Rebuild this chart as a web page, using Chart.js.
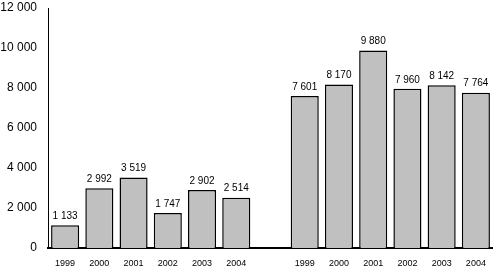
<!DOCTYPE html>
<html>
<head>
<meta charset="utf-8">
<script src="https://cdn.jsdelivr.net/npm/chart.js@4"></script>
<style>
  html, body { margin: 0; padding: 0; background: #fff; }
  #wrap { width: 493px; height: 266px; position: relative; }
</style>
</head>
<body>
<div id="wrap"><canvas id="chart"></canvas></div>
<script>
// Dados: dois grupos de anos separados por uma categoria vazia
const anos = ['1999', '2000', '2001', '2002', '2003', '2004'];
const grupo1 = [1133, 2992, 3519, 1747, 2902, 2514];
const grupo2 = [7601, 8170, 9880, 7960, 8142, 7764];
const yTicks = [0, 2000, 4000, 6000, 8000, 10000, 12000];

const labels = [...anos, '', ...anos];
const valores = [...grupo1, null, ...grupo2];

function fmt(v) {
    return String(v).replace(/\B(?=(\d{3})+(?!\d))/g, ' ');
}

// Rótulos de valor acima das barras
const valueLabels = {
    id: 'valueLabels',
    afterDatasetsDraw(chart) {
        const ctx = chart.ctx;
        const meta = chart.getDatasetMeta(0);
        ctx.save();
        ctx.fillStyle = '#000';
        ctx.font = '10px "Liberation Sans", Arial, sans-serif';
        ctx.textAlign = 'center';
        ctx.textBaseline = 'bottom';
        meta.data.forEach((bar, i) => {
            const v = valores[i];
            if (v == null) return;
            ctx.fillText(fmt(v), bar.x, bar.y - 4);
        });
        ctx.restore();
    }
};

const ctx = document.getElementById('chart').getContext('2d');
new Chart(ctx, {
    type: 'bar',
    data: {
        labels: labels,
        datasets: [{
            data: valores,
            backgroundColor: '#c0c0c0',
            borderColor: '#000',
            borderWidth: 1.5,
            barPercentage: 0.82,
            categoryPercentage: 1
        }]
    },
    options: {
        responsive: true,
        maintainAspectRatio: false,
        animation: false,
        layout: { padding: { top: 8, right: 0, left: 0, bottom: 0 } },
        plugins: {
            legend: { display: false },
            tooltip: { enabled: false }
        },
        scales: {
            x: {
                grid: { display: false, drawTicks: false },
                border: { display: true, color: '#000', width: 2 },
                ticks: {
                    color: '#000',
                    font: { family: '"Liberation Sans", Arial, sans-serif', size: 9 },
                    padding: 10,
                    maxRotation: 0,
                    autoSkip: false
                },
                afterFit(scale) {
                    scale.height = 18;
                    scale.paddingLeft = 0;
                    scale.paddingRight = 0;
                }
            },
            y: {
                min: 0,
                max: 12000,
                grid: { display: false, drawTicks: false },
                border: { display: true, color: '#000', width: 1 },
                afterBuildTicks(scale) {
                    scale.ticks = yTicks.map(v => ({ value: v }));
                },
                ticks: {
                    color: '#000',
                    font: { family: '"Liberation Sans", Arial, sans-serif', size: 12 },
                    padding: 11,
                    callback: v => fmt(v)
                },
                afterFit(scale) {
                    scale.width = 48;
                    scale.paddingTop = 0;
                    scale.paddingBottom = 0;
                }
            }
        }
    },
    plugins: [valueLabels]
});
</script>
</body>
</html>
